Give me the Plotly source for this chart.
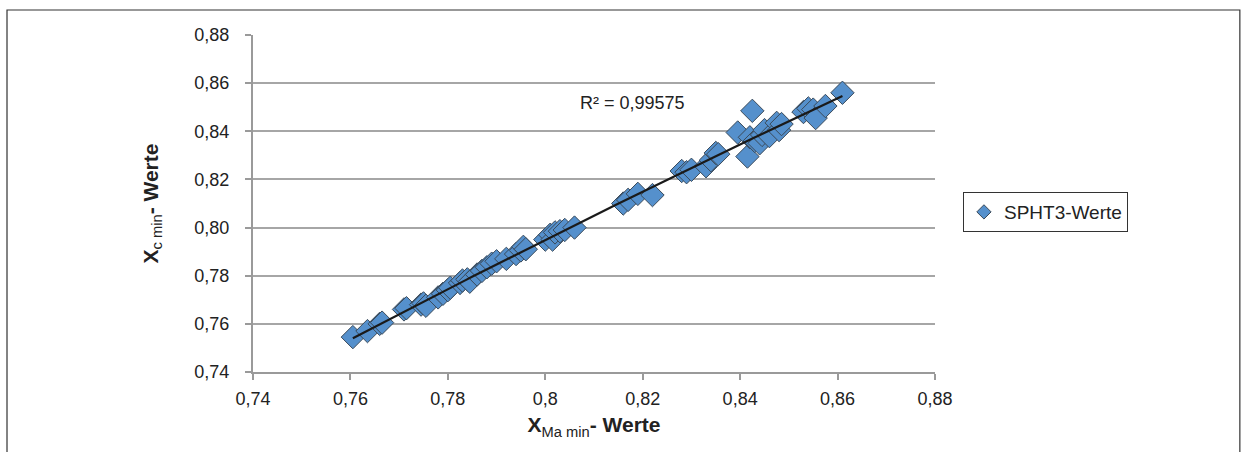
import numpy as np
import plotly.graph_objects as go

x_vals = [0.7605, 0.7635, 0.766, 0.7665, 0.771, 0.7715, 0.7745, 0.775, 0.7755,
          0.778, 0.779, 0.780, 0.7805, 0.7825, 0.783, 0.784, 0.7845,
          0.786, 0.787, 0.788, 0.789, 0.790, 0.792, 0.794, 0.795, 0.7955, 0.796,
          0.800, 0.801, 0.8015, 0.802, 0.803, 0.804, 0.806,
          0.816, 0.817, 0.819, 0.822,
          0.828, 0.829, 0.830, 0.833, 0.834, 0.835, 0.8355,
          0.8395, 0.8415, 0.842, 0.8425, 0.843, 0.844, 0.8445, 0.845, 0.846, 0.8475, 0.848, 0.8485,
          0.853, 0.854, 0.855, 0.8555, 0.8575, 0.861]
y_vals = [0.7545, 0.757, 0.760, 0.7605, 0.766, 0.7665, 0.768, 0.7685, 0.7675,
          0.771, 0.7725, 0.774, 0.775, 0.777, 0.778, 0.7785, 0.7775,
          0.7805, 0.782, 0.7835, 0.785, 0.786, 0.787, 0.789, 0.7905, 0.792, 0.791,
          0.795, 0.797, 0.795, 0.798, 0.7985, 0.799, 0.800,
          0.810, 0.8115, 0.814, 0.8135,
          0.8235, 0.823, 0.824, 0.8255, 0.828, 0.831, 0.8305,
          0.8395, 0.8295, 0.8375, 0.8485, 0.836, 0.835, 0.8385, 0.8405, 0.838, 0.8435, 0.8405, 0.843,
          0.848, 0.8495, 0.849, 0.8455, 0.8505, 0.856]

x_ticks = [0.74, 0.76, 0.78, 0.80, 0.82, 0.84, 0.86, 0.88]
x_ticktext = ["0,74", "0,76", "0,78", "0,8", "0,82", "0,84", "0,86", "0,88"]
y_ticks = [0.74, 0.76, 0.78, 0.80, 0.82, 0.84, 0.86, 0.88]
y_ticktext = ["0,74", "0,76", "0,78", "0,80", "0,82", "0,84", "0,86", "0,88"]

series_name = "SPHT3-Werte"
r2_text = "R² = 0,99575"

# polynomial trendline fitted from the data
coef = np.polyfit(x_vals, y_vals, 2)
tx = np.linspace(min(x_vals), max(x_vals), 100)
ty = np.polyval(coef, tx)

marker_color = "#5590CC"
marker_line = dict(color="#3A4A5A", width=1)

fig = go.Figure()
fig.add_trace(go.Scatter(
    x=x_vals, y=y_vals, mode="markers", name=series_name, showlegend=False,
    marker=dict(symbol="diamond", size=18, color=marker_color, line=marker_line),
))
fig.add_trace(go.Scatter(
    x=tx, y=ty, mode="lines", showlegend=False,
    line=dict(color="#1A1A1A", width=2.2),
))
# legend entry with the small marker
fig.add_trace(go.Scatter(
    x=[None], y=[None], mode="markers", name=series_name,
    marker=dict(symbol="diamond", size=11, color=marker_color, line=marker_line),
))

font_family = "Liberation Sans, Arial, sans-serif"
fig.update_layout(
    width=1250, height=452,
    margin=dict(l=253, r=315, t=35, b=80),
    paper_bgcolor="white", plot_bgcolor="white",
    font=dict(family=font_family, size=18, color="#222"),
    showlegend=True,
    legend=dict(x=1.041, y=0.534, xanchor="left", yanchor="top",
                bordercolor="#333", borderwidth=1, bgcolor="white",
                font=dict(size=19, color="#222"), itemsizing="trace",
                itemwidth=30),
    xaxis=dict(range=[0.74, 0.88], tickvals=x_ticks, ticktext=x_ticktext,
               showgrid=False, zeroline=False, showline=True,
               linecolor="#9A9A9A", linewidth=2, ticks="outside",
               ticklen=6, tickcolor="#9A9A9A", tickwidth=2,
               ticklabelstandoff=3,
               title=dict(text="<b>X</b><sub>Ma min</sub><b>- Werte</b>",
                          font=dict(size=21, color="#222"), standoff=10)),
    yaxis=dict(range=[0.74, 0.88], tickvals=y_ticks, ticktext=y_ticktext,
               showgrid=True, gridcolor="#A6A6A6", gridwidth=1.5,
               zeroline=False, showline=True,
               linecolor="#9A9A9A", linewidth=2, ticks="outside",
               ticklen=6, tickcolor="#9A9A9A", tickwidth=2,
               ticklabelstandoff=12,
               title=dict(text="<b>X</b><sub>c min</sub><b>- Werte</b>",
                          font=dict(size=21, color="#222"), standoff=30)),
    annotations=[dict(x=0.818, y=0.8517, xref="x", yref="y", text=r2_text,
                      showarrow=False, font=dict(size=18, color="#222"))],
    shapes=[dict(type="rect", xref="paper", yref="paper",
                 x0=-0.3607, x1=1.447, y0=-0.3, y1=1.0742,
                 line=dict(color="#333", width=1.2))],
)

fig.write_html("out.html")
